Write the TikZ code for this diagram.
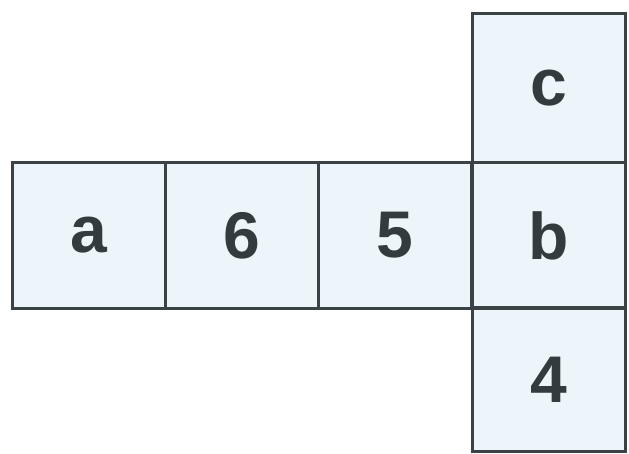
\documentclass[tikz,border=0pt]{standalone}
\usepackage{fontspec}
\setmainfont{Liberation Sans}
\definecolor{facefill}{HTML}{EEF5FA}
\definecolor{edge}{HTML}{3A4245}
\begin{document}
\begin{tikzpicture}[x=1pt,y=-1pt,
  face/.style={draw=edge,line width=3pt,fill=facefill,minimum width=153pt,minimum height=146pt,inner sep=0pt,font=\fontsize{66}{66}\selectfont\bfseries,text=edge!90!black}]
\useasboundingbox (0,0) rectangle (629,454);
\node[face,minimum height=149pt] (c) at (548.5,88.5) {c};
\node[face] (a) at (88.5,235.5) {a};
\node[face] (six) at (241.5,235.5) {6};
\node[face] (five) at (395,235.5) {5};
\node[face] (b) at (548.5,235.5) {b};
\node[face,minimum height=143pt] (four) at (548.5,379.5) {4};
\end{tikzpicture}
\end{document}
